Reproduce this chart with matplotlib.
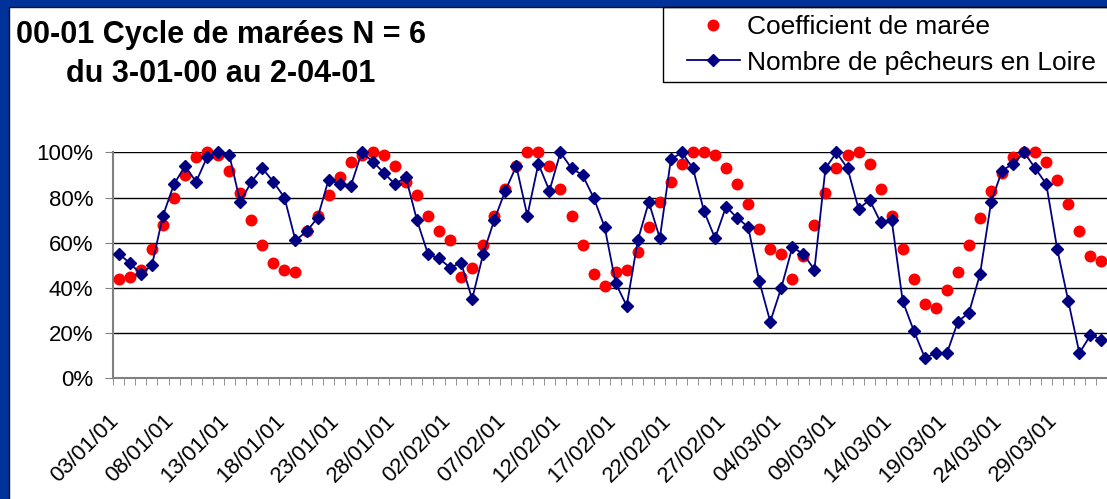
import matplotlib
matplotlib.use('Agg')
import matplotlib.pyplot as plt
from matplotlib.patches import Rectangle
import numpy as np

plt.rcParams['font.family'] = ['Liberation Sans', 'DejaVu Sans']

# Coefficient de marée (%), du 03/01/01 au 02/04/01, un point par jour
coef = [44, 45, 48, 57, 68, 80, 90, 98, 100, 99,
        92, 82, 70, 59, 51, 48, 47, 65, 72, 81,
        89, 96, 99, 100, 99, 94, 87, 81, 72, 65,
        61, 45, 49, 59, 72, 84, 94, 100, 100, 94,
        84, 72, 59, 46, 41, 47, 48, 56, 67, 78,
        87, 95, 100, 100, 99, 93, 86, 77, 66, 57,
        55, 44, 54, 68, 82, 93, 99, 100, 95, 84,
        72, 57, 44, 33, 31, 39, 47, 59, 71, 83,
        91, 98, 100, 100, 96, 88, 77, 65, 54, 52]

# Nombre de pêcheurs en Loire (% du max)
pecheurs = [55, 51, 46, 50, 72, 86, 94, 87, 98, 100,
            99, 78, 87, 93, 87, 80, 61, 65, 71, 88,
            86, 85, 100, 96, 91, 86, 89, 70, 55, 53,
            49, 51, 35, 55, 70, 83, 94, 72, 95, 83,
            100, 93, 90, 80, 67, 42, 32, 61, 78, 62,
            97, 100, 93, 74, 62, 76, 71, 67, 43, 25,
            40, 58, 55, 48, 93, 100, 93, 75, 79, 69,
            70, 34, 21, 9, 11, 11, 25, 29, 46, 78,
            92, 95, 100, 93, 86, 57, 34, 11, 19, 17]

tick_labels = ["03/01/01", "08/01/01", "13/01/01", "18/01/01", "23/01/01",
               "28/01/01", "02/02/01", "07/02/01", "12/02/01", "17/02/01",
               "22/02/01", "27/02/01", "04/03/01", "09/03/01", "14/03/01",
               "19/03/01", "24/03/01", "29/03/01"]

W, H = 1107, 499
fig = plt.figure(figsize=(W / 100, H / 100), dpi=100)
fig.patch.set_facecolor('#003399')
# fond blanc de la diapo
fig.add_artist(Rectangle((9 / W, -0.02), 1.0, 1 - 7 / H + 0.02, transform=fig.transFigure,
                         facecolor='white', edgecolor='#101020', lw=1, zorder=0))

ax = fig.add_axes([113.3 / W, 1 - 378 / H, 1 - 113.3 / W, (378 - 152.5) / H])

x = np.arange(len(coef))
ax.plot(x, np.array(coef) / 100, 'o', color='#ff0000', ms=8.6, mec='none',
        clip_on=False, zorder=3, label='Coefficient de marée')
ax.plot(x, np.array(pecheurs) / 100, '-D', color='#000080', ms=6, lw=1.3,
        clip_on=False, zorder=4, label='Nombre de pêcheurs en Loire')

ax.set_xlim(-0.5, len(coef) - 0.5)
ax.set_ylim(0, 1)

yt = np.arange(0, 1.01, 0.2)
ax.set_yticks(yt, labels=[f'{int(round(v * 100))}%' for v in yt])
ax.tick_params(axis='y', length=5.8, color='#808080', pad=8.6, labelsize=16)
ax.yaxis.grid(True, color='black', lw=1)
ax.set_axisbelow(True)

for s in ['top', 'right']:
    ax.spines[s].set_visible(False)
for s in ['left', 'bottom']:
    ax.spines[s].set_color('#808080')
    ax.spines[s].set_linewidth(1.5)

# graduations entre les jours, étiquettes tous les 5 jours
ax.set_xticks(np.arange(-0.5, len(coef), 1), minor=True)
ax.tick_params(axis='x', which='minor', length=5, color='#808080', direction='out')
ax.set_xticks(range(0, len(coef), 5))
ax.tick_params(axis='x', which='major', length=0, labelbottom=False)
for pos, lab in zip(range(0, len(coef), 5), tick_labels):
    ax.annotate(lab, xy=(pos, 0), xycoords=('data', 'axes fraction'),
                xytext=(-7.5, -23), textcoords='offset points',
                rotation=45, rotation_mode='anchor', ha='right', va='top',
                fontsize=16, annotation_clip=False)

# légende (cadre dessiné à part)
ax.legend(loc='upper left', bbox_to_anchor=(687 / W, 1 - 15 / H), bbox_transform=fig.transFigure,
          frameon=False, fontsize=19, borderpad=0, borderaxespad=0, handlelength=2.0,
          handletextpad=0.27, labelspacing=0.44)
fig.add_artist(Rectangle((663 / W, 1 - 82 / H), (W - 663 + 20) / W, 75 / H,
                         transform=fig.transFigure, fill=False, edgecolor='black', lw=1))

fig.text(221 / W, 1 - 43 / H, '00-01 Cycle de marées N = 6', ha='center', va='baseline',
         fontsize=22, fontweight='bold')
fig.text(221 / W, 1 - 82 / H, 'du 3-01-00 au 2-04-01', ha='center', va='baseline',
         fontsize=22, fontweight='bold')

fig.savefig('out.png', dpi=100, facecolor=fig.get_facecolor())
